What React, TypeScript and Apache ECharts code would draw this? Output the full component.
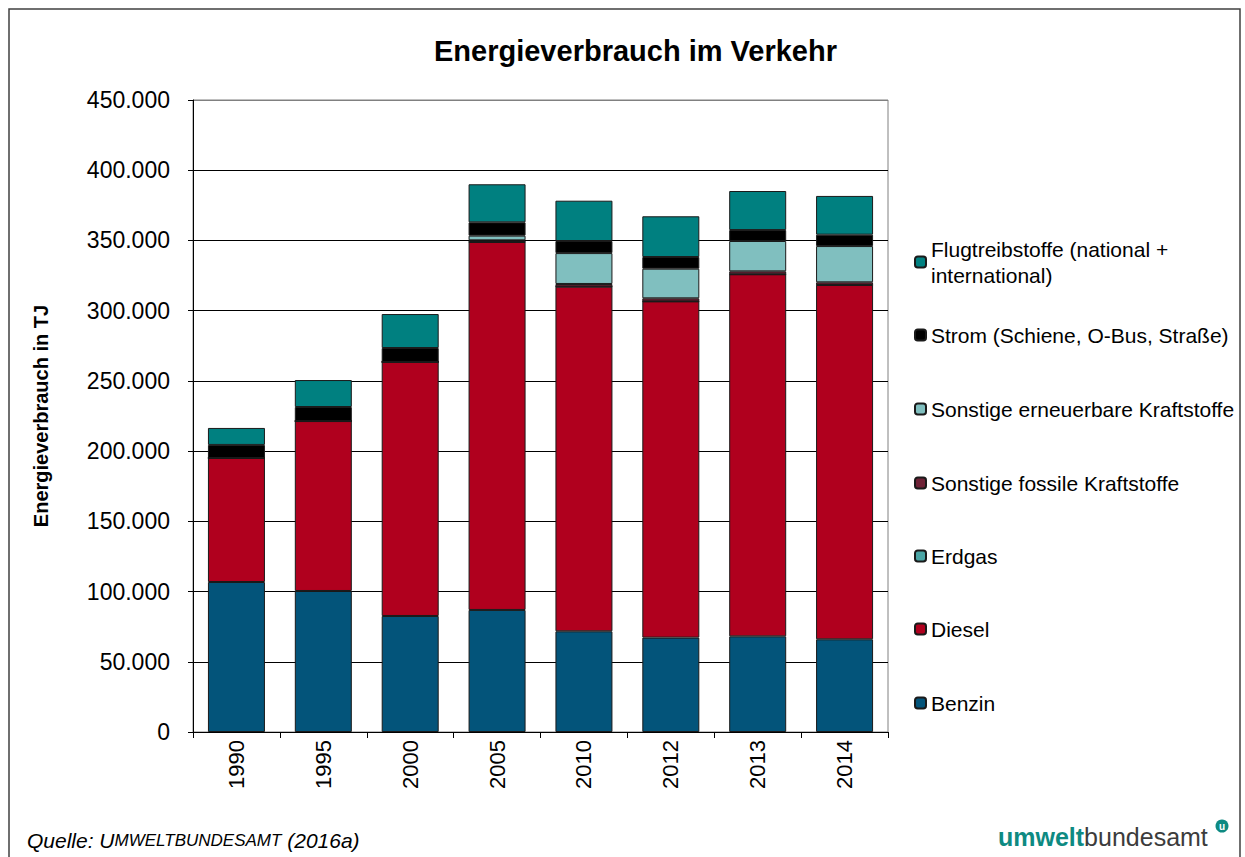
import React, { useEffect, useRef } from "react";
import * as echarts from "echarts";

const years = ["1990", "1995", "2000", "2005", "2010", "2012", "2013", "2014"];
const benzin = [106800, 100400, 82600, 86900, 71700, 67200, 68100, 66000];
const diesel = [88300, 121000, 180900, 262000, 245400, 239400, 257800, 252300];
const erdgas = [0, 0, 0, 0, 0, 0, 0, 0];
const fossile = [0, 0, 0, 1200, 1900, 2200, 2100, 1900];
const erneuerbar = [0, 0, 0, 3300, 22000, 21100, 21600, 25800];
const strom = [9300, 10000, 9900, 9500, 8600, 8300, 7800, 8100];
const flug = [12100, 19200, 24200, 27100, 28700, 29000, 27800, 27600];
const yTicks = [0, 50000, 100000, 150000, 200000, 250000, 300000, 350000, 400000, 450000];

const FONT = "'Liberation Sans', Arial, sans-serif";

const seriesDefs = [
  { name: "Benzin", data: benzin, color: "#03547A" },
  { name: "Diesel", data: diesel, color: "#B0001E" },
  { name: "Erdgas", data: erdgas, color: "#4BA6A6" },
  { name: "Sonstige fossile Kraftstoffe", data: fossile, color: "#6E2236" },
  { name: "Sonstige erneuerbare Kraftstoffe", data: erneuerbar, color: "#80BFBF" },
  { name: "Strom (Schiene, O-Bus, Straße)", data: strom, color: "#000000" },
  { name: "Flugtreibstoffe (national + international)", data: flug, color: "#008080" },
];

const legendCenters = [703, 629, 556, 483, 409, 335, 262];

const fmt = (v: number) => String(v).replace(/\B(?=(\d{3})+(?!\d))/g, ".");

export default function App() {
  const ref = useRef<HTMLDivElement>(null);
  useEffect(() => {
    if (!ref.current) return;
    const chart = echarts.init(ref.current, undefined, { renderer: "svg" });
    const legends = seriesDefs.map((s, i) => {
      const isFlug = i === 6;
      return {
        data: [s.name],
        orient: "vertical",
        left: 914,
        top: isFlug ? legendCenters[i] - 39 : legendCenters[i] - 12,
        padding: 0,
        itemWidth: 11,
        itemHeight: 11,
        selectedMode: false,
        formatter: isFlug ? "Flugtreibstoffe (national +\ninternational)" : undefined,
        textStyle: isFlug
          ? { fontFamily: FONT, fontSize: 21, color: "#000", lineHeight: 26, padding: [26, 0, 0, 0] }
          : { fontFamily: FONT, fontSize: 21, color: "#000", lineHeight: 24 },
      };
    });
    chart.setOption({
      animation: false,
      backgroundColor: "#ffffff",
      title: {
        text: "Energieverbrauch im Verkehr",
        left: 429,
        top: 31,
        textStyle: { fontFamily: FONT, fontSize: 29, fontWeight: "bold", color: "#000" },
      },
      legend: legends,
      grid: {
        left: 193,
        top: 100,
        width: 695,
        height: 632,
        show: true,
        borderColor: "#808080",
        borderWidth: 1,
        containLabel: false,
      },
      xAxis: {
        type: "category",
        data: years,
        axisLine: { show: true, lineStyle: { color: "#000", width: 1 } },
        axisTick: { show: true, length: 6, lineStyle: { color: "#000" } },
        axisLabel: { rotate: 90, fontFamily: FONT, fontSize: 22, color: "#000", margin: 8 },
        splitLine: { show: false },
      },
      yAxis: {
        type: "value",
        min: 0,
        max: 450000,
        interval: 50000,
        name: "Energieverbrauch in TJ",
        nameLocation: "middle",
        nameRotate: 90,
        nameGap: 142,
        nameTextStyle: { fontFamily: FONT, fontSize: 20, fontWeight: "bold", color: "#000" },
        axisLine: { show: true, lineStyle: { color: "#000", width: 1 } },
        axisTick: { show: true, length: 5, inside: false, lineStyle: { color: "#000" } },
        axisLabel: {
          fontFamily: FONT,
          fontSize: 23,
          color: "#000",
          margin: 23,
          formatter: (v: number) => fmt(v),
        },
        splitLine: {
          show: true,
          lineStyle: { color: yTicks.map((t) => (t === 450000 ? "#808080" : "#000000")), width: 1 },
        },
      },
      series: seriesDefs.map((s) => ({
        name: s.name,
        type: "bar",
        stack: "total",
        data: s.data,
        barWidth: 57,
        itemStyle: { color: s.color, borderColor: "#1a1a1a", borderWidth: 1 },
        emphasis: { disabled: true },
      })),
      graphic: [
        {
          type: "rect",
          shape: { x: 9, y: 9, width: 1231, height: 870 },
          style: { fill: "none", stroke: "#404040", lineWidth: 1.5 },
          silent: true,
        },
        {
          type: "text",
          x: 27,
          y: 840,
          style: {
            text: "{q|Quelle: U}{s|MWELTBUNDESAMT}{q| (2016a)}",
            verticalAlign: "middle",
            rich: {
              q: { fontFamily: FONT, fontStyle: "italic", fontSize: 21, fill: "#000" },
              s: { fontFamily: FONT, fontStyle: "italic", fontSize: 17, fill: "#000" },
            },
          },
        },
        {
          type: "text",
          x: 998,
          y: 837,
          style: {
            text: "{a|umwelt}{b|bundesamt}",
            verticalAlign: "middle",
            rich: {
              a: { fontFamily: FONT, fontWeight: "bold", fontSize: 25, fill: "#0E8A82" },
              b: { fontFamily: FONT, fontSize: 25, fill: "#3C3C3C" },
            },
          },
        },
        {
          type: "circle",
          shape: { cx: 1222, cy: 826, r: 6.5 },
          style: { fill: "#0E8A82" },
        },
        {
          type: "text",
          x: 1222,
          y: 826,
          style: {
            text: "u",
            align: "center",
            verticalAlign: "middle",
            fontFamily: FONT,
            fontWeight: "bold",
            fontSize: 10,
            fill: "#fff",
          },
        },
      ],
    });
    return () => chart.dispose();
  }, []);
  return (
    <div
      ref={ref}
      style={{ position: "absolute", left: 0, top: 0, width: 1245, height: 857 }}
    />
  );
}
